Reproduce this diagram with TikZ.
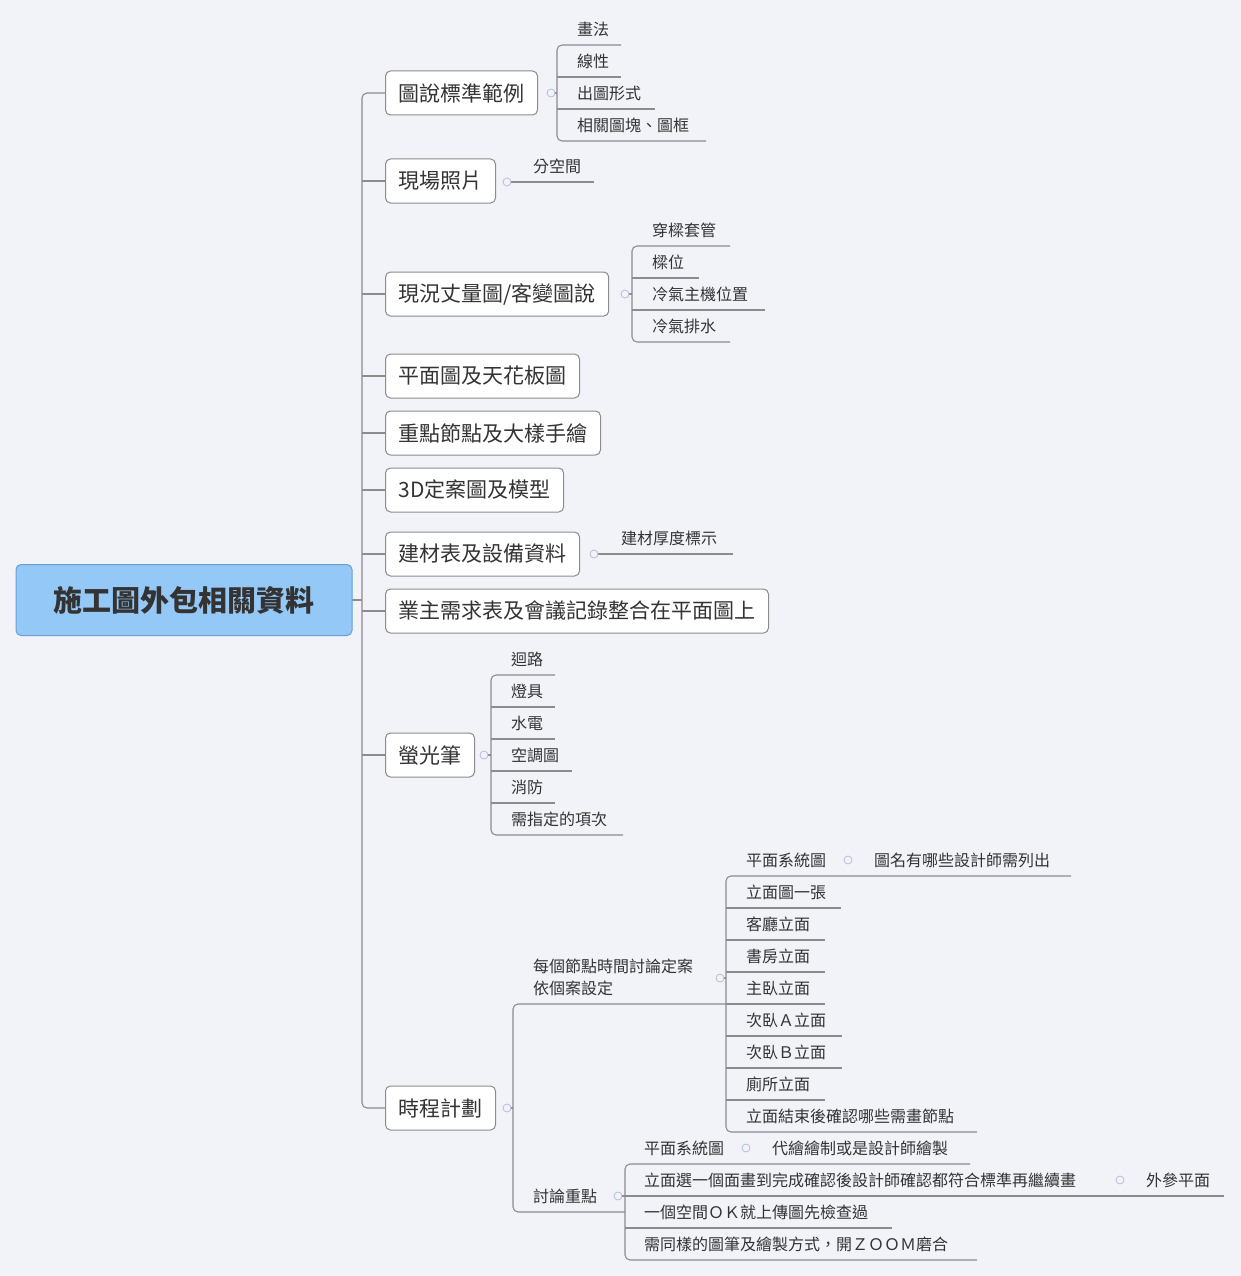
\documentclass[tikz,border=0pt]{standalone}
\usepackage{fontspec}
\setmainfont{Noto Sans CJK TC}
\begin{document}
\begin{tikzpicture}[x=1pt,y=-1pt,
  ln/.style={draw=lncol,line width=1.1pt,rounded corners=5pt},
  item/.style={anchor=west,inner sep=0pt,text=txt,font=\fontsize{16}{20}\selectfont},
  topic/.style={draw=boxcol,fill=white,line width=1pt,rounded corners=5pt,anchor=west,minimum height=44pt,inner xsep=13pt,text=txt,font=\fontsize{21}{24}\selectfont},
  col/.style={circle,draw=circ,fill=bg,line width=0.8pt,minimum size=8pt,inner sep=0pt}]
\definecolor{bg}{HTML}{F1F3F9}
\definecolor{lncol}{HTML}{8C8C8C}
\definecolor{boxcol}{HTML}{8C8C8C}
\definecolor{txt}{HTML}{333333}
\definecolor{circ}{HTML}{B4BEDD}
\definecolor{rootfill}{HTML}{94C8F7}
\definecolor{rootdraw}{HTML}{6A9ED6}
\fill[bg] (0,0) rectangle (1241,1276);
\useasboundingbox (0,0) rectangle (1241,1276);
% spine
\draw[ln] (385,93) -- (362,93) -- (362,1108) -- (385,1108);
\foreach \y in {181,294,376,433,490,554,611,755} \draw[ln] (362,\y) -- (385,\y);
\draw[ln] (352,600) -- (362,600);
% root
\node[draw=rootdraw,fill=rootfill,line width=1pt,rounded corners=5pt,minimum width=336pt,minimum height=71pt,text=txt,font=\bfseries\fontsize{29}{32}\selectfont] (root) at (184,600) {施工圖外包相關資料};
% topics
\node[topic] (t1) at (385,93) {圖說標準範例};
\node[topic] (t2) at (385,181) {現場照片};
\node[topic] (t3) at (385,294) {現況丈量圖/客變圖說};
\node[topic] (t4) at (385,376) {平面圖及天花板圖};
\node[topic] (t5) at (385,433) {重點節點及大樣手繪};
\node[topic] (t6) at (385,490) {3D定案圖及模型};
\node[topic] (t7) at (385,554) {建材表及設備資料};
\node[topic] (t8) at (385,611) {業主需求表及會議記錄整合在平面圖上};
\node[topic] (t9) at (385,755) {螢光筆};
\node[topic] (t10) at (385,1108) {時程計劃};
% branch 1
\draw[ln] (551,93) -- (557,93);
\draw[ln] (621,45) -- (557,45) -- (557,141) -- (706,141);
\draw[ln] (557,77) -- (621,77);
\draw[ln] (557,109) -- (655,109);
\node[col] at (551,93) {};
\node[item] (a1) at (577,29) {畫法};
\node[item] (a2) at (577,61) {線性};
\node[item] (a3) at (577,93) {出圖形式};
\node[item] (a4) at (577,125) {相關圖塊、圖框};
% branch 2
\draw[ln] (507,182) -- (594,182);
\node[col] at (507,182) {};
\node[item] (b1) at (533,166) {分空間};
% branch 3
\draw[ln] (625,294) -- (632,294);
\draw[ln] (730,246) -- (632,246) -- (632,342) -- (730,342);
\draw[ln] (632,278) -- (699,278);
\draw[ln] (632,310) -- (765,310);
\node[col] at (625,294) {};
\node[item] (c1) at (652,230) {穿樑套管};
\node[item] (c2) at (652,262) {樑位};
\node[item] (c3) at (652,294) {冷氣主機位置};
\node[item] (c4) at (652,326) {冷氣排水};
% branch 7
\draw[ln] (594,554) -- (733,554);
\node[col] at (594,554) {};
\node[item] (d1) at (621,538) {建材厚度標示};
% branch 9
\draw[ln] (484,755) -- (491,755);
\draw[ln] (555,675) -- (491,675) -- (491,835) -- (623,835);
\draw[ln] (491,707) -- (555,707);
\draw[ln] (491,739) -- (555,739);
\draw[ln] (491,771) -- (572,771);
\draw[ln] (491,803) -- (555,803);
\node[col] at (484,755) {};
\node[item] (e1) at (511,659) {迴路};
\node[item] (e2) at (511,691) {燈具};
\node[item] (e3) at (511,723) {水電};
\node[item] (e4) at (511,755) {空調圖};
\node[item] (e5) at (511,787) {消防};
\node[item] (e6) at (511,819) {需指定的項次};
% branch 10
\draw[ln] (507,1108) -- (513,1108);
\draw[ln] (726,1004) -- (513,1004) -- (513,1212) -- (625,1212);
\node[col] at (507,1108) {};
\node[item,align=left,font=\fontsize{16}{22}\selectfont] (f1) at (533,977) {每個節點時間討論定案\\依個案設定};
\node[item] (f2) at (533,1196) {討論重點};
% sub A
\draw[ln] (720,978) -- (726,978);
\draw[ln] (1071,876) -- (726,876) -- (726,1132) -- (977,1132);
\draw[ln] (726,908) -- (841,908);
\draw[ln] (726,940) -- (825,940);
\draw[ln] (726,972) -- (825,972);
\draw[ln] (726,1004) -- (825,1004);
\draw[ln] (726,1036) -- (842,1036);
\draw[ln] (726,1068) -- (842,1068);
\draw[ln] (726,1100) -- (825,1100);
\node[col] at (720,978) {};
\node[col] at (848,860) {};
\node[item] (g1) at (746,860) {平面系統圖};
\node[item] (g1b) at (874,860) {圖名有哪些設計師需列出};
\node[item] (g2) at (746,892) {立面圖一張};
\node[item] (g3) at (746,924) {客廳立面};
\node[item] (g4) at (746,956) {書房立面};
\node[item] (g5) at (746,988) {主臥立面};
\node[item] (g6) at (746,1020) {次臥Ａ立面};
\node[item] (g7) at (746,1052) {次臥Ｂ立面};
\node[item] (g8) at (746,1084) {廁所立面};
\node[item] (g9) at (746,1116) {立面結束後確認哪些需畫節點};
% sub B
\draw[ln] (618,1196) -- (625,1196);
\draw[ln] (970,1164) -- (625,1164) -- (625,1260) -- (977,1260);
\draw[ln] (625,1196) -- (1224,1196);
\draw[ln] (625,1228) -- (892,1228);
\node[col] at (618,1196) {};
\node[col] at (746,1148) {};
\node[col] at (1120,1180) {};
\node[item] (h1) at (644,1148) {平面系統圖};
\node[item] (h1b) at (772,1148) {代繪繪制或是設計師繪製};
\node[item] (h2) at (644,1180) {立面選一個面畫到完成確認後設計師確認都符合標準再繼續畫};
\node[item] (h2b) at (1146,1180) {外參平面};
\node[item] (h3) at (644,1212) {一個空間ＯＫ就上傳圖先檢查過};
\node[item] (h4) at (644,1244) {需同樣的圖筆及繪製方式，開ＺＯＯＭ磨合};
\end{tikzpicture}
\end{document}
